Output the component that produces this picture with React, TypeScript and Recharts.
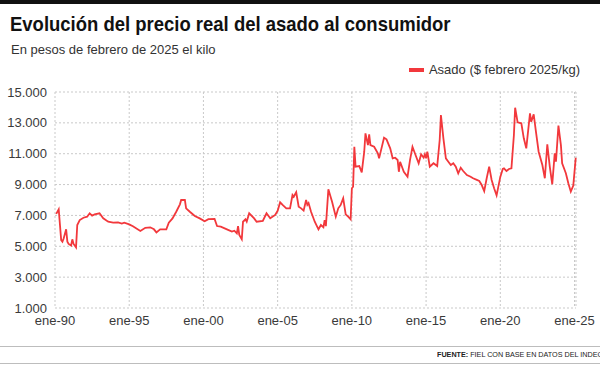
import { CartesianGrid, Line, LineChart, XAxis, YAxis } from "recharts";

const fechas90 = [
  "1990-02", "1990-04", "1990-06", "1990-07", "1990-08", "1990-10", "1990-11", "1990-12",
  "1991-02", "1991-03", "1991-04", "1991-06", "1991-07", "1991-09", "1991-12",
  "1992-03", "1992-05", "1992-07", "1992-09", "1993-01", "1993-04", "1993-08", "1993-12",
  "1994-04", "1994-07", "1994-09", "1995-01", "1995-04", "1995-10", "1996-02", "1996-06",
  "1996-09", "1996-11", "1997-02", "1997-07", "1997-09", "1997-12", "1998-03", "1998-06",
  "1998-07", "1998-10", "1998-11", "1999-02", "1999-06", "1999-10",
];
const valores90 = [
  7100, 7400, 5400, 5300, 5500, 6100, 5300, 5150,
  5050, 5450, 5150, 4930, 6380, 6700, 6850,
  6920, 7140, 6980, 7070, 7140, 6810, 6590, 6530,
  6550, 6470, 6530, 6420, 6300, 5990, 6200, 6230,
  6100, 5900, 6100, 6100, 6530, 6810, 7240, 7720,
  8000, 8000, 7460, 7240, 6960, 6810,
];

const fechas00 = [
  "2000-02", "2000-05", "2000-10", "2000-12", "2001-03", "2001-08", "2001-12", "2002-02",
  "2002-04", "2002-05", "2002-06", "2002-08", "2002-09", "2002-11", "2002-12", "2003-02",
  "2003-06", "2003-08", "2004-01", "2004-04", "2004-07", "2004-11", "2005-01", "2005-03",
  "2005-05", "2005-08", "2005-11", "2006-01", "2006-02", "2006-04", "2006-06", "2006-08",
  "2006-10", "2006-12", "2007-01", "2007-02", "2007-04", "2007-07", "2007-10", "2007-12",
  "2008-02", "2008-03", "2008-04", "2008-06", "2008-09", "2008-12", "2009-02", "2009-04",
  "2009-06", "2009-08", "2009-10", "2009-12",
];
const valores00 = [
  6620, 6760, 6770, 6310, 6270, 6100, 5950, 6010,
  5840, 6310, 5730, 5450, 6590, 6750, 6600, 7140,
  6810, 6590, 6640, 7140, 6810, 7030, 7300, 7850,
  7680, 7460, 7460, 8320, 8210, 8500, 7570, 7460,
  7310, 8000, 7680, 7800, 7240, 6590, 6100, 6380,
  6230, 6700, 6310, 8690, 7890, 6920, 7460, 7680,
  8110, 7070, 6920, 6750,
];

const fechas10 = [
  "2010-01", "2010-02", "2010-03", "2010-04", "2010-07", "2010-09", "2010-11", "2010-12",
  "2011-02", "2011-03", "2011-04", "2011-07", "2011-10", "2011-11", "2012-03", "2012-05",
  "2012-08", "2012-10", "2012-12", "2013-02", "2013-03", "2013-04", "2013-07", "2013-10",
  "2013-12", "2014-02", "2014-05", "2014-07", "2014-09", "2014-11", "2014-12", "2015-01",
  "2015-02", "2015-04", "2015-07", "2015-10", "2015-12", "2016-01", "2016-03", "2016-05",
  "2016-07", "2016-09", "2016-11", "2017-01", "2017-03", "2017-05", "2017-07", "2017-10",
  "2018-01", "2018-03", "2018-06", "2018-08", "2018-10", "2018-12", "2019-02", "2019-04",
  "2019-06", "2019-08", "2019-10", "2020-01",
];
const valores10 = [
  8760, 8860, 11450, 10160, 10200, 9790, 11130, 12320,
  11560, 12260, 11560, 11450, 11020, 10700, 12040, 11930,
  11350, 10700, 10740, 10590, 9830, 10480, 9830, 9510,
  10590, 11450, 10800, 10380, 10960, 10740, 10960, 10700,
  11130, 10160, 10380, 10200, 11890, 13510, 12000, 10700,
  10480, 10270, 10380, 10160, 9730, 10090, 9880, 9620,
  9510, 9410, 9300, 9230, 8970, 8580, 9410, 10160,
  9300, 8760, 8300, 9500,
];

const fechas20 = [
  "2020-03", "2020-04", "2020-06", "2020-08", "2020-10", "2020-12", "2021-01", "2021-03",
  "2021-06", "2021-08", "2021-10", "2022-01", "2022-02", "2022-04", "2022-06", "2022-08",
  "2022-11", "2023-01", "2023-03", "2023-05", "2023-07", "2023-09", "2023-10", "2023-12",
  "2024-02", "2024-03", "2024-06", "2024-08", "2024-10", "2024-12", "2025-02",
];
const valores20 = [
  10010, 10050, 9880, 10010, 10050, 12210, 13980, 13030,
  12970, 12000, 11350, 13620, 13070, 13550, 12320, 11130,
  10270, 9410, 11610, 10160, 9020, 11020, 10480, 12820,
  11560, 10380, 9730, 9080, 8540, 8930, 10740,
];

const xTicks = [1990, 1995, 2000, 2005, 2010, 2015, 2020, 2025];
const yTicks = [1000, 3000, 5000, 7000, 9000, 11000, 13000, 15000];

const toYear = (f: string) => {
  const [y, m] = f.split("-").map(Number);
  return y + (m - 1) / 12;
};

const data = [
  [fechas90, valores90],
  [fechas00, valores00],
  [fechas10, valores10],
  [fechas20, valores20],
].flatMap(([fechas, valores]) =>
  (fechas as string[]).map((f, i) => ({ t: toYear(f), asado: (valores as number[])[i] }))
);

const RED = "#f2383c";
const tickStyle = { fill: "#3a3a3a", fontSize: 13, fontFamily: "'Liberation Sans', Arial, sans-serif" };

const fmtMiles = (v: number) => v.toString().replace(/\B(?=(\d{3})+(?!\d))/g, ".");
const fmtEne = (t: number) => "ene-" + String(Math.round(t) % 100).padStart(2, "0");

export default function App() {
  return (
    <div
      style={{
        position: "fixed",
        left: 0,
        top: 0,
        width: 600,
        height: 365,
        overflow: "hidden",
        background: "#fff",
        fontFamily: "'Liberation Sans', Arial, sans-serif",
      }}
    >
      <div style={{ position: "absolute", left: 0, top: 0, width: 600, height: 4, background: "#111" }} />
      <div
        style={{
          position: "absolute",
          left: 10,
          top: 12,
          fontSize: 21,
          fontWeight: 700,
          color: "#111",
          whiteSpace: "nowrap",
          transform: "scaleX(0.88)",
          transformOrigin: "left center",
        }}
      >
        Evolución del precio real del asado al consumidor
      </div>
      <div style={{ position: "absolute", left: 11, top: 42, fontSize: 13, color: "#333", whiteSpace: "nowrap" }}>
        En pesos de febrero de 2025 el kilo
      </div>
      <div
        style={{
          position: "absolute",
          right: 20,
          top: 62,
          display: "flex",
          alignItems: "center",
          fontSize: 13,
          color: "#333",
          whiteSpace: "nowrap",
        }}
      >
        <span style={{ display: "inline-block", width: 15, height: 4, background: RED, marginRight: 5 }} />
        Asado ($ febrero 2025/kg)
      </div>

      <div style={{ position: "absolute", left: 0, top: 0 }}>
        <LineChart width={600} height={340} data={data} margin={{ top: 92, right: 24, bottom: 2, left: 0 }}>
          <CartesianGrid stroke="#c9c9c9" strokeDasharray="2 2" />
          <XAxis
            dataKey="t"
            type="number"
            domain={[1990, 2025.1]}
            ticks={xTicks}
            tickFormatter={fmtEne}
            axisLine={false}
            tickLine={false}
            tick={tickStyle}
            height={30}
          />
          <YAxis
            domain={[1000, 15000]}
            ticks={yTicks}
            tickFormatter={fmtMiles}
            axisLine={false}
            tickLine={false}
            tick={tickStyle}
            width={55}
          />
          <Line
            type="linear"
            dataKey="asado"
            stroke={RED}
            strokeWidth={1.8}
            dot={false}
            isAnimationActive={false}
          />
        </LineChart>
      </div>

      <div style={{ position: "absolute", left: 0, top: 346, width: 600, height: 1, background: "#bdbdbd" }} />
      <div style={{ position: "absolute", left: 0, top: 363, width: 600, height: 1, background: "#bdbdbd" }} />
      <div
        style={{
          position: "absolute",
          left: 437,
          top: 350,
          fontSize: 8,
          color: "#222",
          whiteSpace: "nowrap",
          textTransform: "uppercase",
          transform: "scaleX(0.9)",
          transformOrigin: "left center",
        }}
      >
        <b>Fuente:</b> FIEL con base en datos del INDEC
      </div>
    </div>
  );
}
